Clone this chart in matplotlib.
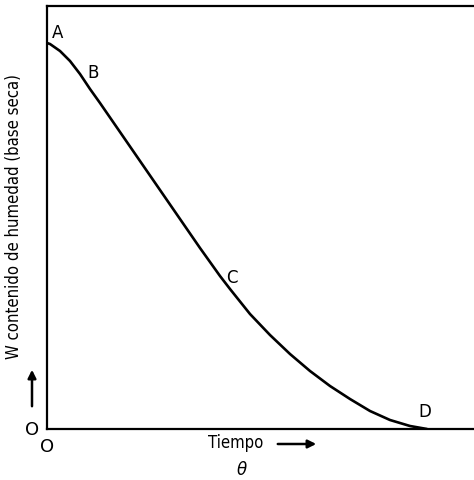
import matplotlib.pyplot as plt

# --- Curva de secado ---
tiempo = [0, 3, 13, 23, 33, 43, 53, 73, 93, 113, 133, 153, 173, 183,
          203, 223, 243, 263, 283, 303, 323, 343, 363, 380]
humedad = [386, 385, 378, 368, 355, 340, 326, 297, 268, 239, 210, 181, 153, 140,
           115, 94, 75, 58, 43, 30, 18, 9, 3, 0]

# puntos etiquetados
etiquetas = ["A", "B", "C", "D"]
etiq_x = [11, 46, 185, 378]
etiq_y = [397, 357, 152, 18]

plt.rcParams['font.family'] = ['DejaVu Sans']

fig = plt.figure(figsize=(4.74, 4.81), dpi=100)
ax = fig.add_axes([47/474, 51/481, 1 - 47/474, 423/481])

ax.plot(tiempo, humedad, color="black", lw=1.9, solid_capstyle="round")
ax.set_xlim(0, 427)
ax.set_ylim(0, 423)
ax.set_xticks([])
ax.set_yticks([])
ax.spines["right"].set_visible(False)
for s in ["left", "bottom", "top"]:
    ax.spines[s].set_linewidth(1.6)

for t, x, y in zip(etiquetas, etiq_x, etiq_y):
    ax.text(x, y, t, fontsize=12, ha="center", va="center")

# ejes y textos
ax.text(-33, 213, "W contenido de humedad (base seca)", rotation=90,
        fontsize=12, fontstretch="condensed", ha="center", va="center",
        clip_on=False)
ax.text(-15, 0, "O", fontsize=13, ha="center", va="center")
ax.text(0, -17, "O", fontsize=13, ha="center", va="center")
ax.annotate("", xy=(-15, 62), xytext=(-15, 20), xycoords="data",
            arrowprops=dict(arrowstyle="-|>", color="black", lw=1.8,
                            mutation_scale=12), annotation_clip=False)

ax.text(189, -13, "Tiempo", fontsize=12, fontstretch="condensed",
        ha="center", va="center")
ax.annotate("", xy=(272, -15), xytext=(228, -15), xycoords="data",
            arrowprops=dict(arrowstyle="-|>", color="black", lw=1.8,
                            mutation_scale=12), annotation_clip=False)
ax.text(195, -40, r"$\theta$", fontsize=12, ha="center", va="center")

plt.savefig("out.png", dpi=100)
